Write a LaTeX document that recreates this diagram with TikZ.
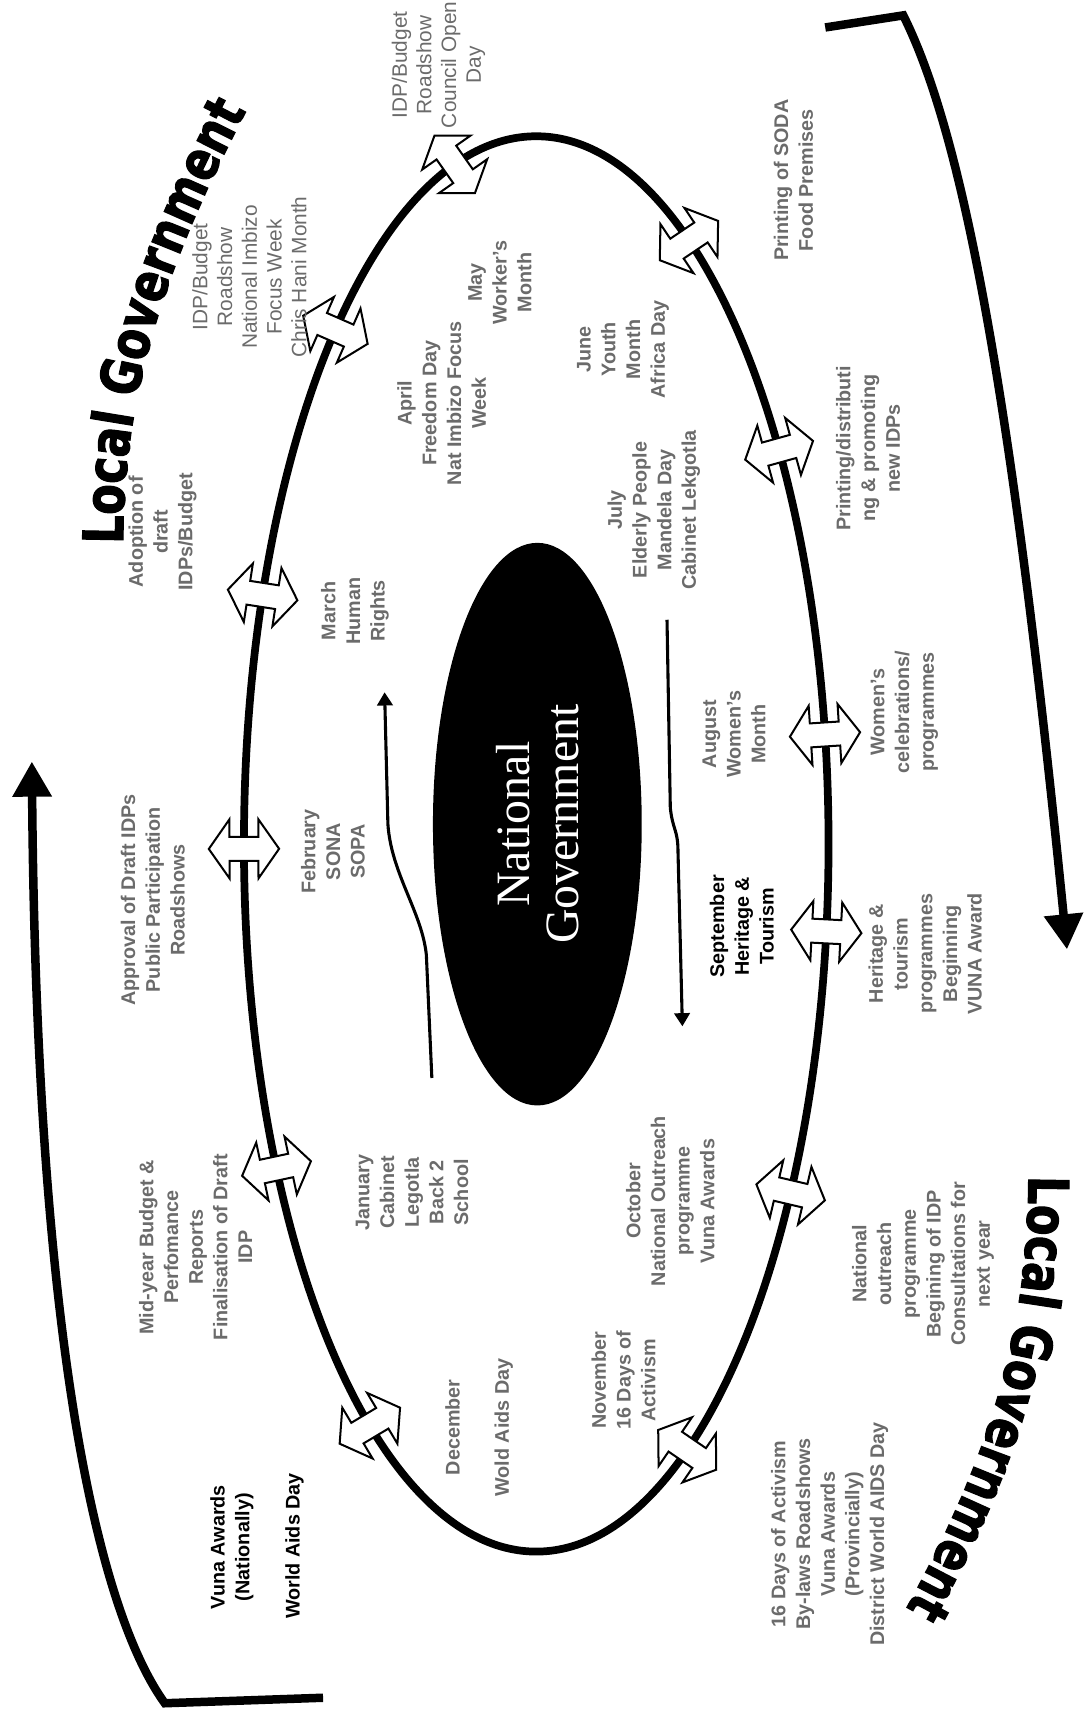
\documentclass[tikz,border=0pt]{standalone}
\usepackage{fontspec}
\setmainfont{Liberation Sans}
\newfontfamily\serifgov{Liberation Serif}
\newfontfamily\titlefont{DejaVu Sans Bold}[FakeStretch=0.8, FakeBold=2]
\usetikzlibrary{shapes, arrows.meta, decorations.text}

\tikzset{
  lbl/.style={rotate=90, align=center, text=black!58, inner sep=0pt,
    font=\bfseries\fontsize{12.8}{16}\selectfont},
  lbllight/.style={lbl, font=\fontsize{13.5}{16}\selectfont},
  lbldark/.style={lbl, text=black},
  monarrow/.style={double arrow, draw=black, fill=white, line width=1.3pt,
    minimum height=1.6cm, inner xsep=0pt, inner ysep=0.25cm,
    double arrow head extend=0.4cm, double arrow tip angle=110},
  bracket/.style={line width=5.5pt, -{Triangle[width=0.85cm,length=0.8cm]}},
  thinarrow/.style={line width=2pt, -{Triangle[width=0.35cm,length=0.3cm]}},
}

\begin{document}
\begin{tikzpicture}[x=2.5cm, y=-2.5cm]
  \useasboundingbox (0,0) rectangle (9.90,15.68);

  % the year
  \draw[line width=5pt] (4.88,7.68) ellipse [x radius=2.66, y radius=6.44];
  \node[ellipse, fill=black, rotate=90, minimum width=12.8cm, minimum height=4.75cm,
        text=white, align=center, font=\serifgov\fontsize{31}{32}\selectfont]
        (natgov) at (4.89,7.50) {National\\Government};

  % month arrows on the ring
  \foreach \t [count=\i] in {-106.2,-58.5,-33.8,-8.9,7.1,29.5,58.9,124.7,152.7,179.6,200.6,226.6}{
    \pgfmathsetmacro\ang{atan2(-sin(\t)/6.44, cos(\t)/2.66)}
    \node[monarrow, rotate=\ang] (arr\i) at ({4.88+2.66*cos(\t)}, {7.68+6.44*sin(\t)}) {};
  }

  % outer brackets
  \coordinate (lb0) at (2.94,15.45);
  \coordinate (lb1) at (1.50,15.50);
  \coordinate (lb2) at (0.29,6.93);
  \draw[bracket] (lb0) -- (lb1) .. controls (0.85,14.6) and (0.33,12.0) .. (lb2);
  \coordinate (rb0) at (7.51,0.25);
  \coordinate (rb1) at (8.22,0.14);
  \coordinate (rb2) at (9.71,8.64);
  \draw[bracket] (rb0) -- (rb1) .. controls (8.75,1.2) and (9.2,3.5) .. (rb2);

  % inner arrows
  \coordinate (fs) at (3.93,9.81);
  \coordinate (fe) at (3.50,6.30);
  \draw[thinarrow] (fs) -- (3.88,8.69) .. controls (3.84,8.30) and (3.56,7.95) .. (3.53,7.50) -- (fe);
  \coordinate (rs) at (6.07,5.64);
  \coordinate (re) at (6.21,9.34);
  \draw[thinarrow] (rs) -- (6.10,7.35) .. controls (6.12,7.55) and (6.17,7.55) .. (6.17,7.75) -- (re);

  % titles
  \path[decorate, decoration={text along path,
      text={|\titlefont\fontsize{36}{40}\selectfont|Local Government}}]
    (1.12,4.95) .. controls (1.12,3.5) and (1.55,2.3) .. (2.30,0.90);
  \path[decorate, decoration={text along path,
      text={|\titlefont\fontsize{36}{40}\selectfont|Local Government}}]
    (9.36,10.70) .. controls (9.36,12.3) and (8.9,13.5) .. (8.10,14.90);

  % months
  \node[lbl] (jan) at (3.75,10.85) {January\\Cabinet\\Legotla\\Back 2\\School};
  \node[lbl] (feb) at (3.03,7.75) {February\\SONA\\SOPA};
  \node[lbl] (mar) at (3.23,5.56) {March\\Human\\Rights};
  \node[lbl] (apr) at (4.02,3.67) {April\\Freedom Day\\Nat Imbizo Focus\\Week};
  \node[lbl] (may) at (4.55,2.57) {May\\Worker's\\Month};
  \node[lbl] (jun) at (5.67,3.18) {June\\Youth\\Month\\Africa Day};
  \node[lbl] (jul) at (5.95,4.64) {July\\Elderly People\\Mandela Day\\Cabinet Lekgotla};
  \node[lbl] (aug) at (6.68,6.68) {August\\Women's\\Month};
  \node[lbldark] (sep) at (6.75,8.43) {September\\Heritage \&\\Tourism};
  \node[lbl] (oct) at (6.10,10.93) {October\\National Outreach\\programme\\Vuna Awards};
  \node[lbl] (nov) at (5.675,12.56) {November\\16 Days of\\Activism};
  \node[lbl] (dec) at (4.36,12.99) {December\\[16pt]Wold Aids Day};

  % local government
  \node[lbllight] (council) at (3.99,0.59) {IDP/Budget\\Roadshow\\Council Open\\Day};
  \node[lbllight] (imbizo) at (2.27,2.52) {IDP/Budget\\Roadshow\\National Imbizo\\Focus Week\\Chris Hani Month};
  \node[lbl] (adopt) at (1.48,4.84) {Adoption of\\draft\\IDPs/Budget};
  \node[lbl] (approve) at (1.39,8.19) {Approval of Draft IDPs\\Public Participation\\Roadshows};
  \node[lbl] (midyear) at (1.78,11.35) {Mid-year Budget \&\\Perfomance\\Reports\\Finalisation of Draft\\IDP};
  \node[lbldark] (vunanat) at (2.11,14.08) {Vuna Awards\\(Nationally)};
  \node[lbldark] (aidsday) at (2.68,14.07) {World Aids Day};
  \node[lbl] (soda) at (7.22,1.64) {Printing of SODA\\Food Premises};
  \node[lbl] (printidp) at (7.90,4.08) {Printing/distributi\\ng \& promoting\\new IDPs};
  \node[lbl] (women) at (8.23,6.48) {Women's\\celebrations/\\programmes};
  \node[lbl] (heritage) at (8.42,8.68) {Heritage \&\\tourism\\programmes\\Beginning\\VUNA Award};
  \node[lbl] (outreach) at (8.40,11.50) {National\\outreach\\programme\\Begining of IDP\\Consultations for\\next year};
  \node[lbl] (activism) at (7.55,13.96) {16 Days of Activism\\By-laws Roadshows\\Vuna Awards\\(Provincially)\\District World AIDS Day};
\end{tikzpicture}
\end{document}
